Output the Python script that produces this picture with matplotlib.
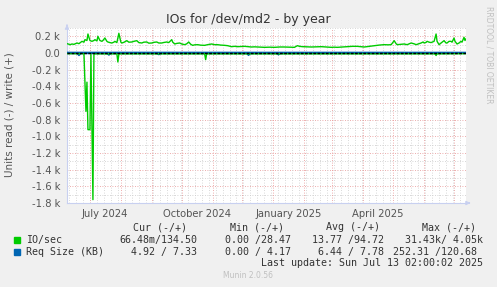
import numpy as np
import pandas as pd
import matplotlib
matplotlib.use("Agg")
import matplotlib.pyplot as plt

# time span of the munin "by year" graph (400 days)
end_time = pd.Timestamp("2025-07-13 02:00")
start_time = end_time - pd.Timedelta(days=400)

# IO/sec write (+), day offset from start_time
write_days = [0, 2, 3, 5, 7, 10, 12, 15, 17, 18, 20, 21, 23, 25, 27, 28, 30, 31, 33, 35,
              36, 38, 40, 41, 43, 45, 47, 48, 50, 52, 54, 55, 57, 60, 62, 65, 67, 70,
              72, 75, 77, 80, 82, 85, 87, 90, 92, 95, 97, 100, 102, 105, 106, 108, 110,
              113, 115, 118, 120, 122, 124, 126, 128, 131, 134, 138, 141, 145, 148,
              151, 154, 158, 161, 165, 168, 171, 175, 178, 181, 185, 188, 191, 195,
              198, 203, 208, 213, 218, 223, 228, 231, 233, 236, 240, 245, 250, 255,
              260, 265, 268, 271, 276, 281, 286, 291, 295, 298, 303, 308, 313, 318,
              322, 325, 328, 330, 331, 335, 338, 341, 345, 348, 350, 353, 355, 357,
              358, 360, 361, 363, 365, 368, 370, 371, 373, 375, 378, 380, 381, 383,
              385, 386, 388, 389, 391, 393, 395, 396, 398, 399, 400]
write_vals = [112, 105, 100, 108, 104, 120, 112, 140, 130, 160, 150, 228, 150, 140, 150,
              160, 145, 200, 150, 140, 150, 180, 140, 132, 125, 120, 130, 140, 125, 236,
              130, 120, 128, 148, 130, 132, 140, 148, 125, 120, 130, 132, 118, 120, 128,
              132, 120, 120, 126, 132, 125, 160, 130, 108, 115, 120, 108, 100, 110, 132,
              105, 92, 98, 100, 94, 92, 100, 108, 100, 100, 95, 92, 88, 76, 80, 76, 78,
              80, 76, 72, 74, 72, 70, 68, 70, 68, 72, 72, 70, 68, 88, 80, 76, 74, 72,
              74, 76, 72, 68, 70, 68, 72, 76, 80, 80, 75, 72, 80, 88, 95, 100, 98, 100,
              148, 110, 100, 104, 108, 100, 120, 110, 100, 112, 120, 132, 120, 128, 140,
              130, 125, 140, 228, 140, 100, 120, 148, 120, 120, 140, 140, 130, 180, 140,
              108, 120, 140, 130, 188, 150, 170]

# IO/sec read (-)
read_days = [0, 17, 19, 20, 21, 23, 24, 26, 27, 50, 51, 52, 138, 139, 140, 369, 370, 371, 400]
read_vals = [-8, -8, -700, -350, -920, -920, -10, -1760, -10, -10, -108, -10,
             -10, -80, -10, -10, -30, -10, -8]

# Req Size (KB)
req_w_days = [0, 100, 200, 300, 400]
req_w_vals = [7.8, 7.9, 7.6, 7.7, 7.3]
req_r_days = [0, 10, 12, 14, 40, 42, 44, 90, 92, 94, 180, 182, 184, 210, 212, 214, 400]
req_r_vals = [-6, -6, -30, -6, -6, -25, -6, -6, -20, -6, -6, -28, -6, -6, -22, -6, -5]

yticks = np.arange(-1800, 201, 200)
xlabels = ["July 2024", "October 2024", "January 2025", "April 2025"]
xlabel_dates = ["2024-07-16", "2024-10-16", "2025-01-16", "2025-04-16"]

green = "#00CC00"
blue = "#0066B3"

def to_time(days):
    return [start_time + pd.Timedelta(days=d) for d in days]

fig = plt.figure(figsize=(4.97, 2.87), dpi=100, facecolor="#F0F0F0")
ax = fig.add_axes([67 / 497, 1 - 203 / 287, 399 / 497, 175 / 287])
ax.set_facecolor("white")

# grid like rrdtool
for y in np.arange(-1800, 301, 100):
    if y % 200 == 0:
        ax.axhline(y, color="#E89090", lw=0.6, ls=(0, (1, 2)), zorder=1)
    else:
        ax.axhline(y, color="#C8C8C8", lw=0.6, ls=(0, (1, 2)), zorder=1)
months = pd.date_range("2024-07-01", "2025-07-01", freq="MS")
weeks = pd.date_range("2024-06-10", "2025-07-13", freq="7D")
for w in weeks:
    ax.axvline(w, color="#CCCCCC", lw=0.6, ls=(0, (1, 2)), zorder=1)
for m in months:
    ax.axvline(m, color="#E89090", lw=0.6, ls=(0, (1, 2)), zorder=1)

ax.plot(to_time(req_r_days), req_r_vals, color=blue, lw=1, zorder=3)
ax.plot(to_time(req_w_days), req_w_vals, color=blue, lw=1, zorder=3)
ax.plot(to_time(read_days), read_vals, color=green, lw=1, zorder=4)
ax.plot(to_time(write_days), write_vals, color=green, lw=1, zorder=4)
ax.axhline(0, color="black", lw=1, ls=(0, (2, 1)), zorder=5)

ax.set_xlim(start_time, end_time)
ax.set_ylim(-1800, 300)

ax.set_yticks(yticks)
ax.set_yticklabels(["0.0" if v == 0 else "%.1f k" % (v / 1000) for v in yticks])
ax.set_xticks(pd.to_datetime(xlabel_dates))
ax.set_xticklabels(xlabels)
ax.tick_params(axis="both", labelsize=7.2, colors="#555555", length=0, pad=5)
ax.tick_params(axis="x", pad=4)

for s in ["top", "right"]:
    ax.spines[s].set_visible(False)
for s in ["left", "bottom"]:
    ax.spines[s].set_color("#C8D0F0")
    ax.spines[s].set_linewidth(0.8)
ax.annotate("", xy=(0, 1.035), xytext=(0, 1.0), xycoords="axes fraction",
            arrowprops=dict(arrowstyle="-|>", color="#C8D0F0", lw=0.8, mutation_scale=6))
ax.annotate("", xy=(1.018, 0), xytext=(1.0, 0), xycoords="axes fraction",
            arrowprops=dict(arrowstyle="-|>", color="#C8D0F0", lw=0.8, mutation_scale=6))

fig.text(0.5, 1 - 19 / 287, "IOs for /dev/md2 - by year", ha="center", va="center",
         fontsize=9, color="#333333")
fig.text(10 / 497, 1 - 115 / 287, "Units read (-) / write (+)", rotation=90,
         ha="center", va="center", fontsize=7.5, color="#555555")
fig.text(489 / 497, 1 - 6 / 287, "RRDTOOL / TOBI OETIKER", rotation=270,
         ha="center", va="top", fontsize=5.5, color="#C0C0C0")

mono = dict(family="DejaVu Sans Mono", fontsize=7.2, color="#333333", va="center")
cols_end = [197, 291, 384, 483]
headers = ["Cur (-/+)", "Min (-/+)", "Avg (-/+)", "Max (-/+)"]
header_end = [187, 284, 380, 476]
for h, xe in zip(headers, header_end):
    fig.text(xe / 497, 1 - 227 / 287, h, ha="right", **mono)

rows = [("IO/sec", green, ["66.48m/134.50", "0.00 /28.47", "13.77 /94.72", "31.43k/ 4.05k"], 240),
        ("Req Size (KB)", blue, ["4.92 / 7.33", "0.00 / 4.17", "6.44 / 7.78", "252.31 /120.68"], 252)]
for name, col, vals, yp in rows:
    fig.patches.append(plt.Rectangle((14 / 497, 1 - (yp + 3) / 287), 6 / 497, 6 / 287,
                                     transform=fig.transFigure, color=col))
    fig.text(26 / 497, 1 - yp / 287, name, ha="left", **mono)
    ends = cols_end[:3] + [483 if name == "IO/sec" else 477]
    for v, xe in zip(vals, ends):
        fig.text(xe / 497, 1 - yp / 287, v, ha="right", **mono)

fig.text(483 / 497, 1 - 263 / 287, "Last update: Sun Jul 13 02:00:02 2025", ha="right", **mono)
fig.text(248 / 497, 1 - 276 / 287, "Munin 2.0.56", ha="center", va="center",
         fontsize=5.5, color="#C0C0C0")

fig.savefig("out.png", dpi=100, facecolor=fig.get_facecolor())
